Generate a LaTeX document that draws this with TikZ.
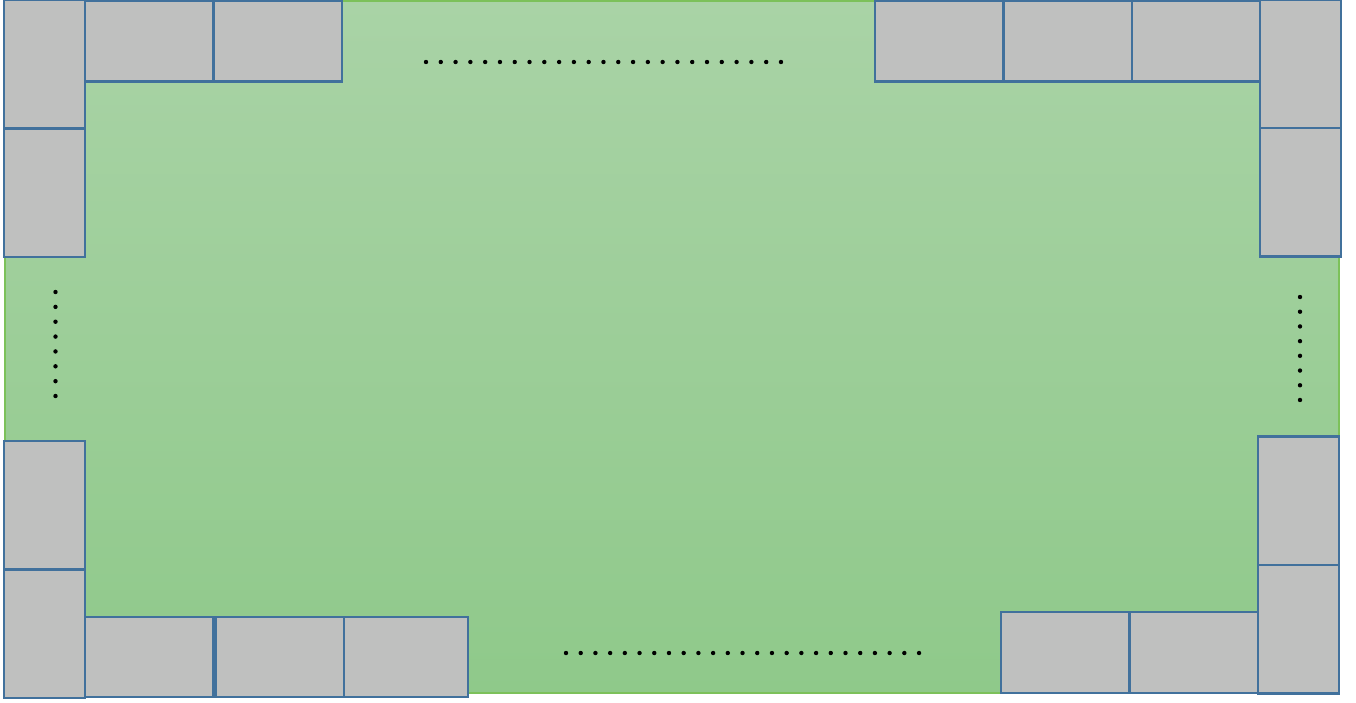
\documentclass[tikz,border=0pt]{standalone}
\usetikzlibrary{positioning}
\definecolor{boxfill}{HTML}{BFC0BF}
\definecolor{boxline}{HTML}{41719C}
\definecolor{greentop}{HTML}{A9D3A6}
\definecolor{greenbot}{HTML}{8FC98A}
\definecolor{greenline}{HTML}{7CC15A}
\tikzset{
  seat/.style={draw=boxline, fill=boxfill, line width=2.3pt, anchor=north west,
    inner sep=0pt, outer sep=0pt, rectangle},
  hseat/.style={seat, minimum width=128.5pt, minimum height=80pt},
  vseat/.style={seat, minimum width=81pt, minimum height=128.5pt},
  dotmark/.style={fill=black, circle, inner sep=0pt, minimum size=4.4pt},
}
\begin{document}
\begin{tikzpicture}[x=1pt,y=-1pt]
\useasboundingbox (0,0) rectangle (1356,702);
% table
\node[draw=greenline, line width=2pt, top color=greentop, bottom color=greenbot,
  anchor=north west, inner sep=0pt, outer sep=0pt,
  minimum width=1334pt, minimum height=692pt] (table) at (5,1) {};
% top-left
\node[vseat] (tl1) at (4,0) {};
\node[vseat] (tl2) at (4,128.5) {};
\node[hseat, minimum height=81pt] (tl3) at (85,0.5) {};
\node[hseat, minimum height=81pt] (tl4) at (213.5,0.5) {};
% top-right
\node[hseat, minimum height=81pt] (tr1) at (875,0.5) {};
\node[hseat, minimum height=81pt] (tr2) at (1003.5,0.5) {};
\node[hseat, minimum height=81pt] (tr3) at (1132,0.5) {};
\node[vseat] (tr4) at (1260,0) {};
\node[vseat] (tr5) at (1260,128) {};
% bottom-left
\node[vseat] (bl1) at (4,441) {};
\node[vseat] (bl2) at (4,569.5) {};
\node[hseat] (bl3) at (85,617) {};
\node[hseat] (bl4) at (215.5,617) {};
\node[hseat, minimum width=124pt] (bl5) at (344,617) {};
% bottom-right
\node[hseat, minimum height=81pt] (br1) at (1001,612) {};
\node[hseat, minimum height=81pt] (br2) at (1129.5,612) {};
\node[vseat] (br3) at (1258,436.5) {};
\node[vseat] (br4) at (1258,565) {};
% dots
\foreach \i in {0,...,24} {
  \node[dotmark] (td\i) at ({426+\i*14.79},62) {};
  \node[dotmark] (bd\i) at ({566+\i*14.71},653) {};
}
\foreach \i in {0,...,7} {
  \node[dotmark] (ld\i) at (55.5,{292+\i*14.86}) {};
  \node[dotmark] (rd\i) at (1300,{297+\i*14.71}) {};
}
\end{tikzpicture}
\end{document}
